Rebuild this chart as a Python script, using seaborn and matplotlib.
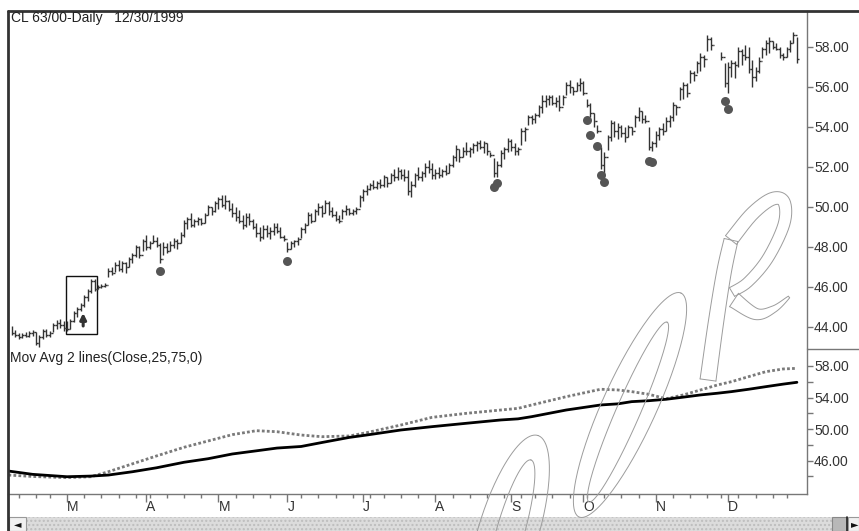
import numpy as np
import pandas as pd
import matplotlib
matplotlib.use("Agg")
import matplotlib.pyplot as plt
import seaborn as sns
from matplotlib.patches import Rectangle
from matplotlib.lines import Line2D
from matplotlib.transforms import IdentityTransform

nan = np.nan
# ---------------- data ----------------
title = "CL 63/00-Daily   12/30/1999"
indicator_label = "Mov Avg 2 lines(Close,25,75,0)"
holidays = ["1999-02-15", "1999-04-02", "1999-05-31", "1999-07-05",
            "1999-09-06", "1999-11-25", "1999-12-24"]
first_day = "1999-02-04"
last_day = "1999-12-30"

high = [
    44.05, 43.85, 43.7, 43.7, 43.75, 43.8, 43.85, 43.75, 43.6, 43.9,
    43.9, 43.8, 44.2, 44.35, 44.4, 44.3, 44.3, 44.4, 44.8, 45.0,
    45.2, 45.6, 45.9, 46.4, 46.4, 46.1, 46.15, 46.2, 46.95, 47.0,
    47.25, 47.35, 47.3, 47.25, 47.5, 47.7, 48.1, 48.05, 48.4, 48.6,
    48.3, 48.6, 48.5, 48.2, 48.25, 48.2, 48.3, 48.45, 48.4, 48.75,
    49.35, 49.5, 49.7, 49.4, 49.5, 49.45, 49.7, 50.1, 50.0, 50.3,
    50.5, 50.6, 50.6, 50.35, 50.2, 50.0, 49.85, 49.6, 49.7, 49.7,
    49.4, 49.2, 49.0, 49.1, 49.1, 49.0, 49.2, 49.2, 49.0, 48.6,
    48.25, 48.3, 48.35, 48.5, 49.0, 49.2, 49.75, 49.7, 49.9, 50.2,
    50.1, 50.35, 50.3, 50.0, 49.8, 49.6, 49.9, 50.1, 49.95, 49.9,
    50.0, 50.6, 50.9, 51.1, 51.2, 51.35, 51.3, 51.4, 51.6, 51.5,
    51.7, 51.9, 52.0, 51.9, 51.9, 51.85, 51.3, 51.7, 52.0, 51.8,
    52.2, 52.35, 52.2, 51.9, 52.0, 51.9, 52.1, 52.2, 52.6, 53.1,
    52.9, 53.0, 53.25, 53.0, 53.2, 53.3, 53.35, 53.3, 53.2, 52.75,
    52.45, 52.3, 52.85, 53.0, 53.45, 53.4, 53.2, 53.0, 53.95, 54.0,
    54.6, 54.6, 54.7, 55.1, 55.6, 55.6, 55.6, 55.6, 55.5, 55.6,
    55.6, 56.25, 56.35, 56.0, 56.25, 56.45, 56.3, 55.4, 55.2, 54.7,
    54.1, 53.0, 52.75, 53.6, 54.35, 54.3, 54.2, 54.1, 54.0, 54.1,
    54.0, 54.6, 55.0, 54.8, 54.6, 54.0, 53.3, 53.8, 54.0, 54.2,
    54.5, 54.6, 55.25, 55.1, 56.0, 56.25, 56.2, 56.85, 56.8, 57.3,
    57.7, 57.6, 58.6, 58.5, nan, nan, 57.75, 57.2, 57.25, 57.35,
    57.3, 58.0, 57.9, 58.1, 58.0, 57.35, 57.0, 57.5, 58.0, 58.35,
    58.5, 58.3, 58.2, 58.0, 57.7, 58.0, 58.35, 58.75, 58.5,
]
low = [
    43.6, 43.5, 43.4, 43.45, 43.5, 43.5, 43.55, 43.1, 43.0, 43.4,
    43.5, 43.5, 43.75, 43.9, 43.95, 43.8, 43.8, 43.9, 44.25, 44.5,
    44.8, 45.0, 45.3, 45.7, 45.8, 45.9, 45.95, 46.0, 46.5, 46.6,
    46.75, 46.8, 46.75, 46.7, 47.0, 47.2, 47.5, 47.45, 47.8, 47.85,
    47.9, 48.2, 48.0, 47.2, 47.6, 47.7, 47.8, 47.95, 47.9, 48.2,
    48.5, 48.9, 49.0, 49.0, 49.1, 49.1, 49.2, 49.6, 49.6, 49.75,
    49.9, 50.0, 49.9, 49.8, 49.5, 49.3, 49.2, 48.9, 49.0, 49.1,
    48.9, 48.5, 48.3, 48.4, 48.5, 48.4, 48.6, 48.7, 48.45, 48.3,
    47.75, 47.9, 48.0, 48.1, 48.45, 48.7, 49.1, 49.2, 49.3, 49.6,
    49.5, 49.7, 49.6, 49.5, 49.3, 49.2, 49.4, 49.6, 49.6, 49.6,
    49.65, 50.0, 50.3, 50.6, 50.85, 50.9, 50.9, 50.95, 51.0, 51.0,
    51.2, 51.3, 51.35, 51.4, 51.3, 50.6, 50.5, 51.0, 51.35, 51.3,
    51.5, 51.7, 51.4, 51.4, 51.45, 51.5, 51.6, 51.7, 52.0, 52.3,
    52.25, 52.5, 52.6, 52.5, 52.7, 52.8, 52.9, 52.7, 52.6, 52.5,
    51.5, 51.5, 52.0, 52.4, 52.75, 52.8, 52.6, 52.6, 53.1, 53.3,
    54.1, 54.15, 54.2, 54.5, 54.7, 55.0, 55.1, 55.1, 55.0, 54.8,
    55.1, 55.6, 55.7, 55.6, 55.8, 55.8, 55.6, 55.0, 54.5, 54.0,
    53.7, 51.9, 51.6, 52.85, 53.3, 53.5, 53.4, 53.5, 53.25, 53.5,
    53.6, 54.0, 54.3, 54.2, 54.2, 52.85, 52.8, 53.0, 53.35, 53.6,
    53.8, 54.0, 54.3, 54.6, 55.35, 55.4, 55.5, 56.2, 56.3, 56.7,
    56.8, 57.0, 57.8, 57.85, nan, nan, 57.35, 56.0, 55.7, 56.5,
    56.45, 57.0, 57.1, 57.35, 56.7, 56.0, 56.3, 56.7, 57.45, 57.6,
    57.7, 57.9, 57.85, 57.45, 57.35, 57.5, 57.75, 58.2, 57.2,
]
close = [
    43.7, 43.6, 43.5, 43.6, 43.55, 43.7, 43.75, 43.2, 43.5, 43.8,
    43.6, 43.7, 44.1, 44.2, 44.1, 43.95, 43.9, 44.3, 44.7, 44.9,
    45.1, 45.5, 45.8, 46.3, 45.9, 46.0, 46.05, 46.1, 46.8, 46.7,
    47.1, 46.9, 47.2, 47.0, 47.4, 47.6, 48.0, 47.6, 48.3, 48.0,
    48.2, 48.3, 48.1, 47.4, 48.0, 47.8, 48.1, 48.3, 48.2, 48.6,
    49.2, 49.4, 49.1, 49.3, 49.4, 49.2, 49.6, 50.0, 49.8, 50.2,
    50.4, 50.1, 50.3, 49.9, 49.7, 49.5, 49.3, 49.1, 49.5, 49.3,
    49.0, 48.7, 48.5, 48.9, 48.7, 48.8, 49.0, 48.8, 48.5, 48.4,
    47.9, 48.2, 48.3, 48.4, 48.9, 49.1, 49.6, 49.3, 49.8, 50.0,
    49.7, 50.2, 49.8, 49.6, 49.4, 49.3, 49.8, 49.9, 49.7, 49.8,
    49.9, 50.5, 50.8, 50.9, 51.1, 51.0, 51.2, 51.1, 51.5, 51.2,
    51.6, 51.5, 51.8, 51.6, 51.5, 50.8, 51.1, 51.6, 51.5, 51.7,
    52.0, 51.9, 51.6, 51.7, 51.6, 51.8, 51.7, 52.1, 52.5, 52.9,
    52.5, 52.8, 52.8, 52.9, 53.1, 53.2, 53.0, 53.2, 52.8, 52.6,
    51.7, 52.1, 52.7, 52.9, 53.3, 53.0, 52.8, 52.9, 53.8, 53.9,
    54.5, 54.4, 54.6, 55.0, 55.3, 55.4, 55.5, 55.2, 55.3, 55.0,
    55.5, 56.1, 56.0, 55.8, 56.1, 56.2, 55.7, 55.1, 54.7, 54.3,
    53.8, 52.1, 52.5, 53.5, 54.2, 53.8, 54.0, 53.7, 53.5, 54.0,
    53.8, 54.5, 54.8, 54.4, 54.3, 53.0, 53.2, 53.6, 53.9, 53.8,
    54.3, 54.5, 55.1, 55.0, 55.9, 56.1, 55.7, 56.7, 56.6, 57.2,
    57.5, 57.4, 58.4, 58.1, nan, nan, 57.5, 56.2, 57.0, 57.2,
    57.1, 57.8, 57.6, 57.5, 56.9, 56.5, 56.8, 57.3, 57.9, 58.2,
    58.3, 58.0, 57.9, 57.6, 57.5, 57.9, 58.2, 58.6, 57.4,
]

# signal dots (bar index, price)
dot_idx = [43, 80, 140, 141, 167, 168, 170, 171, 172, 185, 186, 207, 208]
dot_val = [46.8, 47.3, 51.0, 51.2, 54.35, 53.6, 53.05, 51.6, 51.25, 52.3, 52.25, 55.3, 54.9]

# moving averages (bar index, value)
ma_idx = [-1, 6, 16, 23, 28, 35, 42, 50, 57, 64, 71, 77, 84, 90, 98, 103, 113, 122,
          132, 142, 147, 151, 161, 171, 176, 180, 185, 190, 195, 200, 205, 209, 214,
          219, 224, 228]
ma75 = [44.69, 44.27, 43.97, 44.05, 44.18, 44.6, 45.1, 45.8, 46.25, 46.85, 47.25, 47.6,
        47.8, 48.3, 48.95, 49.25, 49.89, 50.31, 50.74, 51.16, 51.3, 51.58, 52.42, 53.06,
        53.2, 53.48, 53.6, 53.78, 54.05, 54.33, 54.55, 54.75, 55.05, 55.38, 55.7, 55.93]
ma25 = [44.18, 44.0, 43.85, 43.97, 44.6, 45.6, 46.6, 47.7, 48.5, 49.3, 49.8, 49.67,
        49.25, 49.04, 49.13, 49.55, 50.52, 51.49, 52.0, 52.42, 52.63, 53.06, 54.11, 55.05,
        54.96, 54.75, 54.41, 53.85, 54.33, 54.96, 55.6, 56.01, 56.65, 57.28, 57.62, 57.7]

price_ticks = [44, 46, 48, 50, 52, 54, 56, 58]
ind_ticks = [46, 50, 54, 58]
ind_minor = [44, 48, 52, 56]
box_range = [15.7, 24.7, 43.65, 46.55]   # x0, x1, y0, y1
arrow_pts = [20.7, 44.05, 44.7]          # x, tail, head

# ---------------- build ----------------
dates = pd.bdate_range(first_day, last_day)
dates = dates[~dates.isin(pd.to_datetime(holidays))]
n = len(dates)
idx = np.arange(n)
df = pd.DataFrame({"i": idx, "high": high, "low": low, "close": close})
df["open"] = df["close"].shift(1)
dots = pd.DataFrame({"i": dot_idx, "v": dot_val})
ma = pd.DataFrame({"i": ma_idx, "ma25": ma25, "ma75": ma75})

month_idx = [k for k in range(n) if k == 0 or dates[k].month != dates[k - 1].month][1:]
month_lab = [dates[k].strftime("%b")[0] for k in month_idx]
week_idx = [k for k in range(1, n) if dates[k].weekday() < dates[k - 1].weekday()]

sns.set_theme(style="white")
plt.rcParams["font.family"] = ["Liberation Sans", "DejaVu Sans"]
W, H = 859, 531
fig = plt.figure(figsize=(W / 100, H / 100), dpi=100)
fig.patch.set_facecolor("white")

def fx(px): return px / W
def fy(py): return 1 - py / H

ax1 = fig.add_axes([fx(8), fy(349), (807 - 8) / W, (349 - 11) / H])
ax2 = fig.add_axes([fx(8), fy(494), (807 - 8) / W, (494 - 349) / H], sharex=ax1)

x0 = (8 - 11.9) / 3.443
x1 = (807 - 11.9) / 3.443
ax1.set_xlim(x0, x1)
ax1.set_ylim(42.9, 59.8)
ax2.set_ylim(41.78, 60.15)

barc = "#333333"
ax1.vlines(df["i"], df["low"], df["high"], color=barc, lw=1.0)
ax1.hlines(df["open"], df["i"] - 0.5, df["i"], color=barc, lw=1.0)
ax1.hlines(df["close"], df["i"], df["i"] + 0.5, color=barc, lw=1.0)
sns.scatterplot(data=dots, x="i", y="v", ax=ax1, s=42, color="#555555",
                edgecolor="#555555", linewidth=0, legend=False, zorder=3)
ax1.add_patch(Rectangle((box_range[0], box_range[2]), box_range[1] - box_range[0],
                        box_range[3] - box_range[2], fill=False, ec="#111111", lw=1.0))
ax1.annotate("", xy=(arrow_pts[0], arrow_pts[2]), xytext=(arrow_pts[0], arrow_pts[1]),
             arrowprops=dict(arrowstyle="-|>", color="#333333", lw=2.2, mutation_scale=9,
                             shrinkA=0, shrinkB=0))

sns.lineplot(data=ma, x="i", y="ma25", ax=ax2, color="#7a7a7a", lw=2.0,
             linestyle=(0, (1, 0.8)), legend=False)
sns.lineplot(data=ma, x="i", y="ma75", ax=ax2, color="#000000", lw=2.0, legend=False)

tickc = "#777777"
labc = "#333333"
for ax in (ax1, ax2):
    ax.set_xlabel("")
    ax.set_ylabel("")
    ax.yaxis.tick_right()
    ax.set_facecolor("white")
    for s in ax.spines.values():
        s.set_visible(False)
    ax.spines["right"].set_visible(True)
    ax.spines["right"].set_color(tickc)
    ax.spines["right"].set_linewidth(1.0)

ax1.set_yticks(price_ticks, labels=[f"{v:.2f}" for v in price_ticks])
ax2.set_yticks(ind_ticks, labels=[f"{v:.2f}" for v in ind_ticks])
ax2.set_yticks(ind_minor, minor=True)
for ax in (ax1, ax2):
    ax.tick_params(axis="y", which="both", direction="out", length=4, width=1,
                   color=tickc, labelcolor=labc, labelsize=10, pad=1, right=True, left=False)
ax1.tick_params(axis="x", which="both", bottom=False, labelbottom=False)

ax2.spines["bottom"].set_visible(True)
ax2.spines["bottom"].set_color(tickc)
ax2.spines["bottom"].set_linewidth(1.0)
ax2.set_xticks(month_idx, labels=month_lab)
ax2.set_xticks([w for w in week_idx if w not in month_idx], minor=True)
ax2.tick_params(axis="x", which="major", direction="out", length=6, width=1,
                color=tickc, labelcolor=labc, labelsize=10, pad=-2, bottom=True)
ax2.tick_params(axis="x", which="minor", direction="out", length=3, width=1,
                color=tickc, bottom=True)
for t in ax2.get_xticklabels():
    t.set_horizontalalignment("left")

fig.text(fx(11), fy(18), title, fontsize=10, color="#222222", va="center", ha="left")
fig.text(fx(10), fy(358), indicator_label, fontsize=10, color="#222222", va="center", ha="left")

# frame lines
fig.add_artist(Line2D([fx(8), fx(859)], [fy(11), fy(11)], color="#333333", lw=2))
fig.add_artist(Line2D([fx(8), fx(8)], [fy(11), fy(531)], color="#333333", lw=2))
fig.add_artist(Line2D([fx(807), fx(859)], [fy(349), fy(349)], color=tickc, lw=1))

# scrollbar
fig.add_artist(Rectangle((fx(27), fy(531)), (832 - 27) / W, 14 / H, transform=fig.transFigure,
                         facecolor="#dcdcdc", edgecolor="#bdbdbd", hatch="....", lw=0))
fig.add_artist(Rectangle((fx(9), fy(531)), 17 / W, 14 / H, transform=fig.transFigure,
                         facecolor="#f0f0f0", edgecolor="#999999", lw=0.8))
fig.add_artist(Rectangle((fx(832), fy(531)), 15 / W, 14 / H, transform=fig.transFigure,
                         facecolor="#b8b8b8", edgecolor="#888888", lw=0.8))
fig.add_artist(Rectangle((fx(848), fy(531)), 11 / W, 14 / H, transform=fig.transFigure,
                         facecolor="#f0f0f0", edgecolor="#999999", lw=0.8))
fig.add_artist(Line2D([fx(847), fx(847)], [fy(531), fy(517)], color="#222222", lw=1.2))
fig.text(fx(14), fy(524), "\u25c4", fontsize=7, color="#111111", va="center", ha="left",
         family="DejaVu Sans")
fig.text(fx(851), fy(524), "\u25ba", fontsize=7, color="#111111", va="center", ha="left",
         family="DejaVu Sans")

# watermark outline (pixel coordinates, image y measured from top)
wm = "#9c9c9c"

def wline(xs, ys):
    fig.add_artist(Line2D(xs, H - np.asarray(ys), transform=IdentityTransform(),
                          color=wm, lw=0.7, zorder=20))

def loop(cx, cy, a, b, ang):
    t = np.linspace(0, 2 * np.pi, 200)
    th = np.deg2rad(ang)
    xs = cx + a * np.cos(t) * np.cos(th) - b * np.sin(t) * np.sin(th)
    ys = cy - (a * np.cos(t) * np.sin(th) + b * np.sin(t) * np.cos(th))
    wline(xs, ys)

def spline(P, k=24):
    P = np.asarray(P, float)
    P = np.vstack([P[0], P, P[-1]])
    out = []
    for j in range(1, len(P) - 2):
        p0, p1, p2, p3 = P[j - 1], P[j], P[j + 1], P[j + 2]
        t = np.linspace(0, 1, k, endpoint=False)[:, None]
        out.append(0.5 * (2 * p1 + (-p0 + p2) * t + (2 * p0 - 5 * p1 + 4 * p2 - p3) * t ** 2
                          + (-p0 + 3 * p1 - 3 * p2 + p3) * t ** 3))
    out.append(P[-2][None])
    return np.vstack(out)

def stroke(P, w0, w1):
    c = spline(P)
    d = np.gradient(c, axis=0)
    nrm = np.stack([-d[:, 1], d[:, 0]], 1)
    nrm /= np.linalg.norm(nrm, axis=1, keepdims=True) + 1e-9
    w = np.linspace(w0, w1, len(c))[:, None] / 2
    a, b = c + nrm * w, c - nrm * w
    wline(a[:, 0], a[:, 1])
    wline(b[:, 0], b[:, 1])
    wline([a[0, 0], b[0, 0]], [a[0, 1], b[0, 1]])
    wline([a[-1, 0], b[-1, 0]], [a[-1, 1], b[-1, 1]])

loop(630, 405, 123, 27, 65.5)
loop(628, 412, 98, 12, 66.5)
loop(508, 533, 102, 30, 73)
loop(510, 533, 76, 14, 74)
# R
stroke([(708, 380), (716, 322), (724, 272), (731, 240)], 16, 14)
stroke([(731, 240), (752, 214), (772, 199), (784, 202), (784, 224), (768, 258),
        (748, 282), (732, 292)], 14, 10)
stroke([(734, 300), (756, 314), (774, 309), (789, 297)], 16, 2)

fig.savefig("out.png", dpi=100, facecolor="white")
